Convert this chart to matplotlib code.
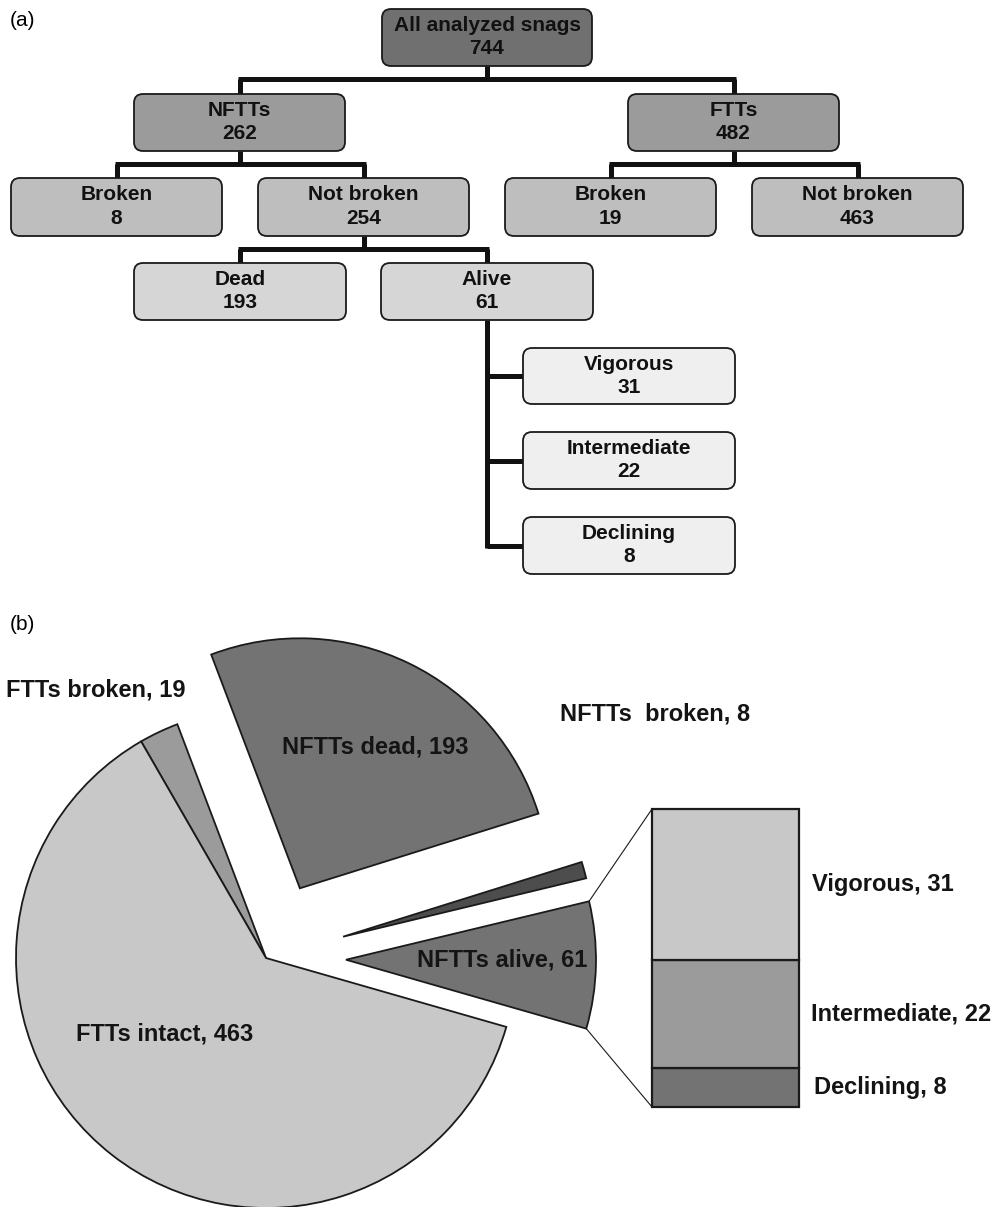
import numpy as np
import matplotlib.pyplot as plt
from matplotlib.patches import FancyBboxPatch, ConnectionPatch

plt.rcParams['font.family'] = ['Liberation Sans', 'DejaVu Sans']

# (a) tree of snags
node_names = ['All analyzed snags', 'NFTTs', 'FTTs', 'Broken', 'Not broken',
              'Broken', 'Not broken', 'Dead', 'Alive',
              'Vigorous', 'Intermediate', 'Declining']
node_counts = [744, 262, 482, 8, 254, 19, 463, 193, 61, 31, 22, 8]
node_parent = [-1, 0, 0, 1, 1, 2, 2, 4, 4, 8, 8, 8]
node_level = [0, 1, 1, 2, 2, 2, 2, 3, 3, 4, 4, 4]

# (b) pie + bar of the alive part
pie_labels = ['NFTTs alive, 61', 'NFTTs  broken, 8', 'NFTTs dead, 193',
              'FTTs broken, 19', 'FTTs intact, 463']
pie_values = [61, 8, 193, 19, 463]
bar_labels = ['Declining, 8', 'Intermediate, 22', 'Vigorous, 31']
bar_values = [8, 22, 31]

W, H = 993, 1207
fig = plt.figure(figsize=(W / 100, H / 100), dpi=100)
ax = fig.add_axes([0, 0, 1, 1])


def Y(y):
    return H - y


# box positions in pixels (x0, y0, x1, y1), y measured from top
boxes = [(382, 9, 592, 66), (134, 94, 345, 151), (628, 94, 839, 151),
         (11, 178, 222, 236), (258, 178, 469, 236), (505, 178, 716, 236),
         (752, 178, 963, 236), (134, 263, 346, 320), (381, 263, 593, 320),
         (523, 348, 735, 404), (523, 432, 735, 489), (523, 517, 735, 574)]
level_colors = ['#707070', '#9b9b9b', '#bebebe', '#d6d6d6', '#efefef']
lk = dict(color='#111111', lw=3.6, solid_capstyle='butt', zorder=1)

for i, (x0, y0, x1, y1) in enumerate(boxes):
    p = FancyBboxPatch((x0, Y(y1)), x1 - x0, y1 - y0,
                       boxstyle='round,pad=0,rounding_size=9',
                       fc=level_colors[node_level[i]], ec='#1a1a1a', lw=1.3, zorder=2)
    ax.add_patch(p)
    cx = (x0 + x1) / 2
    h = y1 - y0
    ax.text(cx, Y(y0 + 0.29 * h), node_names[i], ha='center', va='center',
            fontsize=15, fontweight='bold', color='#111111', zorder=3)
    ax.text(cx, Y(y0 + 0.70 * h), str(node_counts[i]), ha='center', va='center',
            fontsize=15, fontweight='bold', color='#111111', zorder=3)

# connectors
for p in sorted(set(node_parent) - {-1}):
    kids = [i for i, q in enumerate(node_parent) if q == p]
    px0, py0, px1, py1 = boxes[p]
    pcx = (px0 + px1) / 2
    if p == 8:
        mids = [(boxes[k][1] + boxes[k][3]) / 2 for k in kids]
        ax.plot([pcx, pcx], [Y(py1), Y(max(mids) + 2)], **lk)
        for k, m in zip(kids, mids):
            ax.plot([pcx, boxes[k][0]], [Y(m), Y(m)], **lk)
    else:
        ky = boxes[kids[0]][1]
        my = (py1 + ky) / 2 - 1
        xs = [(boxes[k][0] + boxes[k][2]) / 2 for k in kids]
        ax.plot([pcx, pcx], [Y(py1), Y(my)], **lk)
        ax.plot([min(xs) - 2, max(xs) + 2], [Y(my), Y(my)], **lk)
        for x in xs:
            ax.plot([x, x], [Y(my), Y(ky)], **lk)

ax.text(10, Y(21), '(a)', fontsize=15, ha='left', va='center')
ax.text(10, Y(624), '(b)', fontsize=15, ha='left', va='center')

# pie (explode is in data units here, radius is 250 px)
R = 250
pie_colors = ['#737373', '#4d4d4d', '#737373', '#9b9b9b', '#c8c8c8']
explode = [0.32 * R, 0.32 * R, 0.31 * R, 0, 0]
wedges, _ = ax.pie(pie_values, center=(266, Y(958)), radius=R, startangle=-16,
                   colors=pie_colors, explode=explode,
                   wedgeprops=dict(ec='#1a1a1a', lw=1.3))

tk = dict(fontsize=17, fontweight='bold', color='#141414')
ax.text(502, Y(960), pie_labels[0], ha='center', va='center', **tk)
ax.text(560, Y(714), pie_labels[1], ha='left', va='center', **tk)
ax.text(375, Y(747), pie_labels[2], ha='center', va='center', **tk)
ax.text(6, Y(690), pie_labels[3], ha='left', va='center', **tk)
ax.text(165, Y(1034), pie_labels[4], ha='center', va='center', **tk)

ax.set_xlim(0, W)
ax.set_ylim(0, H)
ax.set_aspect('auto')
ax.axis('off')

# bar of the alive wedge
bx0, bx1, btop, bbot = 652, 799, 809, 1107
bax = fig.add_axes([bx0 / W, Y(bbot) / H, (bx1 - bx0) / W, (bbot - btop) / H])
total = sum(bar_values)
bottoms = np.cumsum([0] + bar_values[:-1])
bar_colors = ['#737373', '#9b9b9b', '#c8c8c8']
bars = bax.bar(0, bar_values, bottom=bottoms, width=1, color=bar_colors,
               edgecolor='#1a1a1a', lw=1.6, clip_on=False)
bax.set_xlim(-0.5, 0.5)
bax.set_ylim(0, total)
bax.axis('off')

label_x = [814, 811, 812]
for lab, b, v, lx in zip(bar_labels, bottoms, bar_values, label_x):
    yy = bax.transData.transform((0, b + v / 2))[1]
    ax.text(lx, yy, lab, ha='left', va='center', **tk)

# lines from the alive wedge to the bar
w = wedges[0]
cx, cy = w.center
for th, yb in [(w.theta2, total), (w.theta1, 0)]:
    pt = (cx + w.r * np.cos(np.radians(th)), cy + w.r * np.sin(np.radians(th)))
    con = ConnectionPatch(xyA=pt, coordsA=ax.transData, xyB=(-0.5, yb),
                          coordsB=bax.transData, color='#1a1a1a', lw=0.8)
    fig.add_artist(con)

fig.savefig('out.png', dpi=100)
